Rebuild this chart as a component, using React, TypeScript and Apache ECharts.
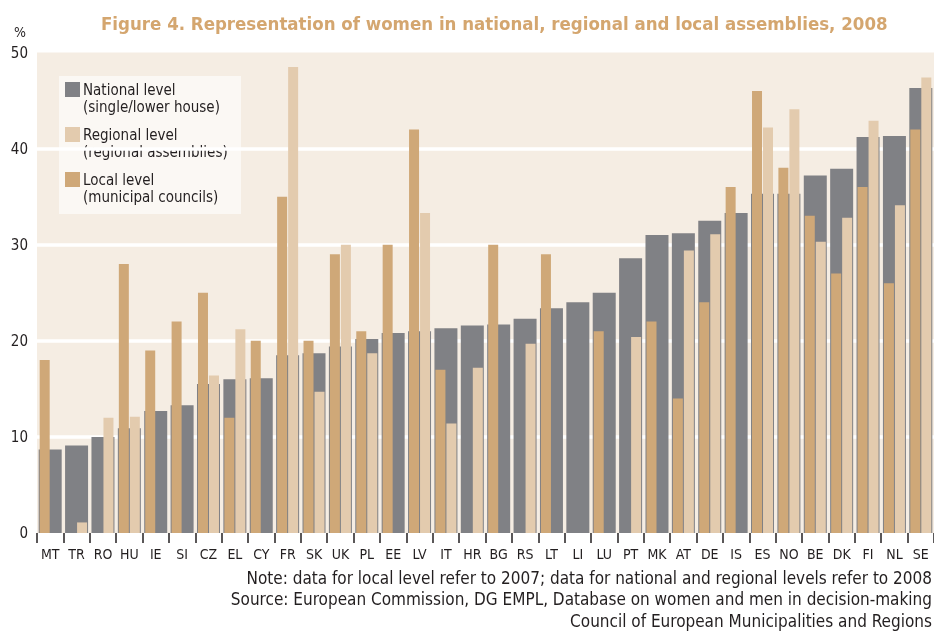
import React, { useEffect, useRef } from "react";
import * as echarts from "echarts";

const categories = ["MT","TR","RO","HU","IE","SI","CZ","EL","CY","FR","SK","UK","PL","EE","LV","IT","HR","BG","RS","LT","LI","LU","PT","MK","AT","DE","IS","ES","NO","BE","DK","FI","NL","SE"];
const nationalLevel = [8.7,9.1,10.0,10.9,12.7,13.3,15.5,16.0,16.1,18.5,18.7,19.4,20.2,20.8,21.0,21.3,21.6,21.7,22.3,23.4,24.0,25.0,28.6,31.0,31.2,32.5,33.3,35.3,35.3,37.2,37.9,41.2,41.3,46.3];
const localLevel = [18,null,null,28,19,22,25,12,20,35,20,29,21,30,42,17,null,30,null,29,null,21,null,22,14,24,36,46,38,33,27,36,26,42];
const regionalLevel = [null,1.1,12,12.1,null,null,16.4,21.2,null,48.5,14.7,30,18.7,null,33.3,11.4,17.2,null,19.7,null,null,null,20.4,null,29.4,31.1,null,42.2,44.1,30.3,32.8,42.9,34.1,47.4];
const yTicks = [0, 10, 20, 30, 40, 50];

const titleText = "Figure 4. Representation of women in national, regional and local assemblies, 2008";
const legendLabels = ["National level\n(single/lower house)", "Regional level\n(regional assemblies)", "Local level\n(municipal councils)"];
const notes = [
  "Note: data for local level refer to 2007; data for national and regional levels refer to 2008",
  "Source: European Commission, DG EMPL, Database on women and men in decision-making",
  "Council of European Municipalities and Regions",
];

const FONT = '"Liberation Sans Narrow", "DejaVu Sans Condensed", "Open Sans", sans-serif';
const C_NAT = "#808185";
const C_REG = "#e3cbae";
const C_LOC = "#cfa878";
const C_TEXT = "#231f20";

export default function App() {
  const ref = useRef<HTMLDivElement>(null);
  useEffect(() => {
    if (!ref.current) return;
    const chart = echarts.init(ref.current, null, { renderer: "svg" });
    const legendColors = [C_NAT, C_REG, C_LOC];
    const legendChildren: any[] = [
      { type: "rect", shape: { x: 0, y: 0, width: 182, height: 138 }, style: { fill: "rgba(255,255,255,0.6)" } },
    ];
    legendLabels.forEach((t, i) => {
      legendChildren.push({ type: "rect", shape: { x: 6, y: 6 + i * 45, width: 15, height: 15 }, style: { fill: legendColors[i] } });
      legendChildren.push({
        type: "text", x: 24, y: 5 + i * 45,
        style: { text: t, font: `15px ${FONT}`, fill: C_TEXT, lineHeight: 17, verticalAlign: "top", align: "left" },
      });
    });
    const noteY = [578, 599, 621];
    chart.setOption({
      animation: false,
      title: {
        text: titleText, left: 96, top: 9,
        textStyle: { fontFamily: FONT, fontSize: 18.5, fontWeight: "bold", color: "#d4a66f" },
      },
      grid: { left: 37, right: -7, top: 52.5, bottom: 99, show: true, backgroundColor: "#f5ede3", borderWidth: 0, containLabel: false },
      xAxis: [
        {
          type: "category", data: categories, offset: 2,
          axisLine: { show: false },
          axisTick: { show: true, length: 10, lineStyle: { color: C_TEXT, width: 1.5 } },
          axisLabel: { fontFamily: FONT, fontSize: 14, color: C_TEXT, margin: 12 },
          splitLine: { show: false },
        },
        { type: "category", data: categories, show: false },
      ],
      yAxis: {
        type: "value", min: 0, max: 50, interval: 10,
        axisLine: { show: false }, axisTick: { show: false },
        axisLabel: { fontFamily: FONT, fontSize: 15, color: C_TEXT, margin: 9 },
        splitLine: { show: true, lineStyle: { color: yTicks.map((v) => (v === 0 || v === 50 ? "rgba(255,255,255,0)" : "#ffffff")), width: 3.5 } },
      },
      series: [
        { name: "National level", type: "bar", xAxisIndex: 0, data: nationalLevel, barWidth: 23, itemStyle: { color: C_NAT }, silent: true, z: 2 },
        { name: "Local level", type: "bar", xAxisIndex: 1, data: localLevel, barWidth: 10, barGap: "10%", itemStyle: { color: C_LOC }, silent: true, z: 3 },
        { name: "Regional level", type: "bar", xAxisIndex: 1, data: regionalLevel, barWidth: 10, barGap: "10%", itemStyle: { color: C_REG }, silent: true, z: 3 },
      ],
      graphic: [
        { type: "text", x: 14, y: 32, style: { text: "%", font: `14px ${FONT}`, fill: C_TEXT, verticalAlign: "middle", align: "left" } },
        { type: "group", x: 59, y: 76, z: 10, children: legendChildren },
        ...notes.map((t, i) => ({
          type: "text", x: 932, y: noteY[i],
          style: { text: t, font: `17px ${FONT}`, fill: C_TEXT, align: "right", verticalAlign: "middle" },
        })),
      ],
    });
    return () => chart.dispose();
  }, []);
  return <div ref={ref} style={{ position: "fixed", left: 0, top: 0, width: 934, height: 632 }} />;
}
